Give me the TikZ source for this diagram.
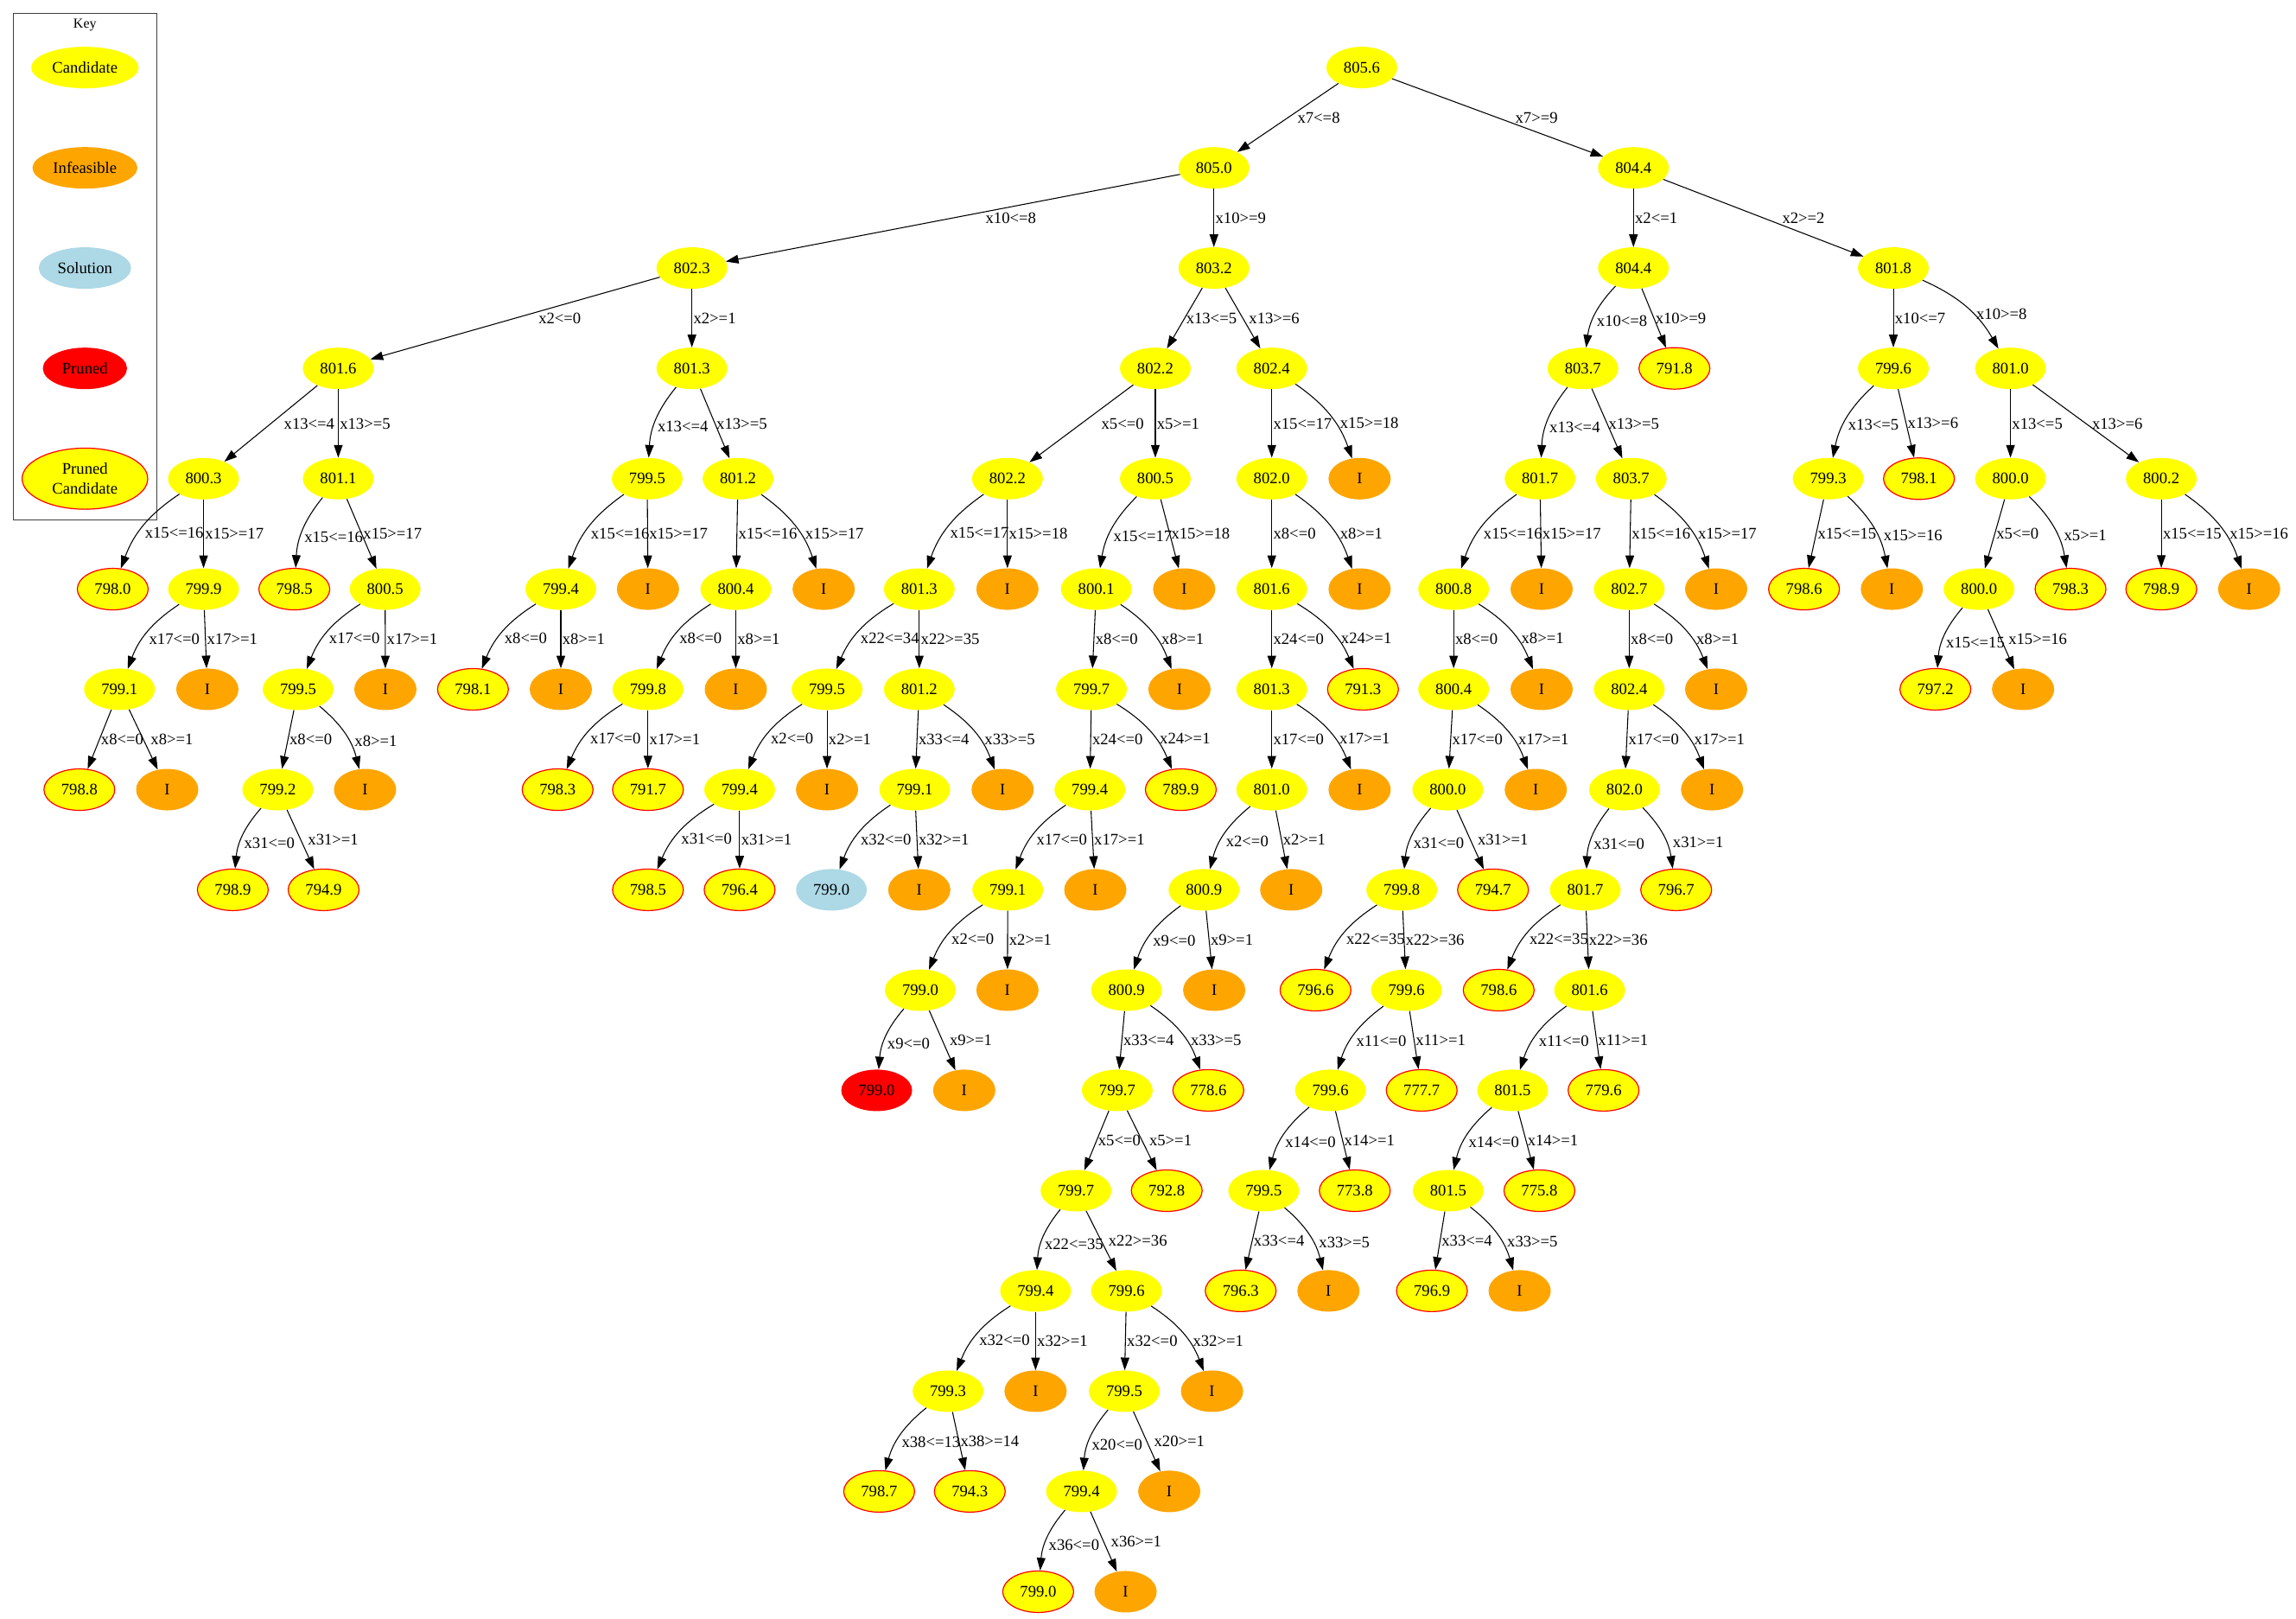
\documentclass[tikz,border=0pt]{standalone}
\usepackage{fontspec}
\setmainfont{Liberation Serif}
\usetikzlibrary{shapes, arrows.meta, positioning}

\definecolor{gvyellow}{HTML}{FFFF00}
\definecolor{gvorange}{HTML}{FFA500}
\definecolor{gvblue}{HTML}{ADD8E6}
\definecolor{gvred}{HTML}{FF0000}
\newcommand{\gvfont}{\fontsize{14}{16.8}\selectfont}

\tikzset{
	cand/.style={ellipse, fill=gvyellow, minimum width=54pt, minimum height=36pt, inner xsep=6pt, inner ysep=3pt, font=\gvfont},
	infs/.style={cand, fill=gvorange},
	sol/.style={cand, fill=gvblue},
	prun/.style={cand, fill=gvred},
	pcand/.style={cand, draw=gvred, line width=0.9pt},
	keyitem/.style={inner xsep=4.6pt},
	lab/.style={anchor=west, inner sep=1pt, font=\gvfont},
	labr/.style={lab, xshift=5pt},
	clab/.style={lab, yshift=-6pt},
	crlab/.style={lab, xshift=7pt, yshift=-6pt},
	edge/.style={-{Triangle[length=11pt,width=7.5pt]}, line width=0.8pt},
	cl/.style={bend right=18},
	cr/.style={bend left=18},
}

\begin{document}
\begin{tikzpicture}[x=1.2709pt, y=1.2709pt]
			\useasboundingbox (0, 0) rectangle (1568, -1104.8);

			\node[draw=black!75, line width=1pt, minimum width=124.5pt, minimum height=439.3pt, inner sep=0pt] (key) at (58, -182.15) {};
			\node[font=\fontsize{12}{14}\selectfont] (keytitle) at (58, -17.2) {Key};
			\node[cand, keyitem] (kcand) at (58, -46.1) {Candidate};
			\node[infs, keyitem] (kinfs) at (58, -114.6) {Infeasible};
			\node[sol, keyitem] (ksol) at (58, -183) {Solution};
			\node[prun, keyitem, minimum width=73pt] (kprun) at (58, -251.5) {Pruned};
			\node[pcand, keyitem, align=center, minimum width=109pt, minimum height=53pt] (kpcand) at (58, -326.8) {Pruned\\Candidate};

			\node[cand] (d0a) at (930, -46.1) {805.6};

			\node[cand] (d1a) at (829, -114.6) {805.0};
			\node[cand] (d1b) at (1115.5, -114.6) {804.4};

			\node[cand] (d2a) at (472.5, -183) {802.3};
			\node[cand] (d2b) at (829, -183) {803.2};
			\node[cand] (d2c) at (1115.5, -183) {804.4};
			\node[cand] (d2d) at (1293, -183) {801.8};

			\node[cand] (d3a) at (231, -251.5) {801.6};
			\node[cand] (d3b) at (472.5, -251.5) {801.3};
			\node[cand] (d3c) at (789, -251.5) {802.2};
			\node[cand] (d3d) at (868.5, -251.5) {802.4};
			\node[cand] (d3e) at (1081, -251.5) {803.7};
			\node[pcand] (d3f) at (1143.5, -251.5) {791.8};
			\node[cand] (d3g) at (1293, -251.5) {799.6};
			\node[cand] (d3h) at (1373, -251.5) {801.0};

			\node[cand] (d4a) at (139, -326.8) {800.3};
			\node[cand] (d4b) at (231, -326.8) {801.1};
			\node[cand] (d4c) at (442, -326.8) {799.5};
			\node[cand] (d4d) at (504, -326.8) {801.2};
			\node[cand] (d4e) at (688, -326.8) {802.2};
			\node[cand] (d4f) at (789, -326.8) {800.5};
			\node[cand] (d4g) at (868.5, -326.8) {802.0};
			\node[infs] (d4h) at (928.5, -326.8) {I};
			\node[cand] (d4i) at (1051.7, -326.8) {801.7};
			\node[cand] (d4j) at (1114, -326.8) {803.7};
			\node[cand] (d4k) at (1248.5, -326.8) {799.3};
			\node[pcand] (d4l) at (1310.5, -326.8) {798.1};
			\node[cand] (d4m) at (1373, -326.8) {800.0};
			\node[cand] (d4n) at (1476, -326.8) {800.2};

			\node[pcand] (d5a) at (77, -402.2) {798.0};
			\node[cand] (d5b) at (139, -402.2) {799.9};
			\node[pcand] (d5c) at (201, -402.2) {798.5};
			\node[cand] (d5d) at (263, -402.2) {800.5};
			\node[cand] (d5e) at (383, -402.2) {799.4};
			\node[infs] (d5f) at (442.5, -402.2) {I};
			\node[cand] (d5g) at (502.5, -402.2) {800.4};
			\node[infs] (d5h) at (562.5, -402.2) {I};
			\node[cand] (d5i) at (627.8, -402.2) {801.3};
			\node[infs] (d5j) at (688, -402.2) {I};
			\node[cand] (d5k) at (748.7, -402.2) {800.1};
			\node[infs] (d5l) at (808.7, -402.2) {I};
			\node[cand] (d5m) at (868.5, -402.2) {801.6};
			\node[infs] (d5n) at (928.5, -402.2) {I};
			\node[cand] (d5o) at (992.7, -402.2) {800.8};
			\node[infs] (d5p) at (1052.8, -402.2) {I};
			\node[cand] (d5q) at (1112.6, -402.2) {802.7};
			\node[infs] (d5r) at (1172, -402.2) {I};
			\node[pcand] (d5s) at (1232, -402.2) {798.6};
			\node[infs] (d5t) at (1292, -402.2) {I};
			\node[cand] (d5u) at (1351.5, -402.2) {800.0};
			\node[pcand] (d5v) at (1414, -402.2) {798.3};
			\node[pcand] (d5w) at (1476, -402.2) {798.9};
			\node[infs] (d5x) at (1536, -402.2) {I};

			\node[cand] (d6a) at (81.6, -470.6) {799.1};
			\node[infs] (d6b) at (141.6, -470.6) {I};
			\node[cand] (d6c) at (203.6, -470.6) {799.5};
			\node[infs] (d6d) at (263.2, -470.6) {I};
			\node[pcand] (d6e) at (323, -470.6) {798.1};
			\node[infs] (d6f) at (383, -470.6) {I};
			\node[cand] (d6g) at (442.5, -470.6) {799.8};
			\node[infs] (d6h) at (502.5, -470.6) {I};
			\node[cand] (d6i) at (564.8, -470.6) {799.5};
			\node[cand] (d6j) at (627.8, -470.6) {801.2};
			\node[cand] (d6k) at (745.4, -470.6) {799.7};
			\node[infs] (d6l) at (805.5, -470.6) {I};
			\node[cand] (d6m) at (868.5, -470.6) {801.3};
			\node[pcand] (d6n) at (930.8, -470.6) {791.3};
			\node[cand] (d6o) at (992.7, -470.6) {800.4};
			\node[infs] (d6p) at (1052.8, -470.6) {I};
			\node[cand] (d6q) at (1112.6, -470.6) {802.4};
			\node[infs] (d6r) at (1172, -470.6) {I};
			\node[pcand] (d6s) at (1321.7, -470.6) {797.2};
			\node[infs] (d6t) at (1381.6, -470.6) {I};

			\node[pcand] (d7a) at (54.2, -539.1) {798.8};
			\node[infs] (d7b) at (114.2, -539.1) {I};
			\node[cand] (d7c) at (189.7, -539.1) {799.2};
			\node[infs] (d7d) at (249.3, -539.1) {I};
			\node[pcand] (d7e) at (380.8, -539.1) {798.3};
			\node[pcand] (d7f) at (442.5, -539.1) {791.7};
			\node[cand] (d7g) at (505.1, -539.1) {799.4};
			\node[infs] (d7h) at (564.8, -539.1) {I};
			\node[cand] (d7i) at (624.7, -539.1) {799.1};
			\node[infs] (d7j) at (684.7, -539.1) {I};
			\node[cand] (d7k) at (744.3, -539.1) {799.4};
			\node[pcand] (d7l) at (806.4, -539.1) {789.9};
			\node[cand] (d7m) at (868.5, -539.1) {801.0};
			\node[infs] (d7n) at (928.5, -539.1) {I};
			\node[cand] (d7o) at (988.7, -539.1) {800.0};
			\node[infs] (d7p) at (1048.8, -539.1) {I};
			\node[cand] (d7q) at (1109.4, -539.1) {802.0};
			\node[infs] (d7r) at (1169.2, -539.1) {I};

			\node[pcand] (d8a) at (159, -607.5) {798.9};
			\node[pcand] (d8b) at (221, -607.5) {794.9};
			\node[pcand] (d8c) at (442.5, -607.5) {798.5};
			\node[pcand] (d8d) at (505.1, -607.5) {796.4};
			\node[sol] (d8e) at (567.8, -607.5) {799.0};
			\node[infs] (d8f) at (627.8, -607.5) {I};
			\node[cand] (d8g) at (688.2, -607.5) {799.1};
			\node[infs] (d8h) at (748, -607.5) {I};
			\node[cand] (d8i) at (822.2, -607.5) {800.9};
			\node[infs] (d8j) at (881.8, -607.5) {I};
			\node[cand] (d8k) at (957.3, -607.5) {799.8};
			\node[pcand] (d8l) at (1019.6, -607.5) {794.7};
			\node[cand] (d8m) at (1082.6, -607.5) {801.7};
			\node[pcand] (d8n) at (1144.7, -607.5) {796.7};

			\node[cand] (d9a) at (628.5, -676) {799.0};
			\node[infs] (d9b) at (688, -676) {I};
			\node[cand] (d9c) at (769.3, -676) {800.9};
			\node[infs] (d9d) at (829.2, -676) {I};
			\node[pcand] (d9e) at (898.4, -676) {796.6};
			\node[cand] (d9f) at (960.5, -676) {799.6};
			\node[pcand] (d9g) at (1023.5, -676) {798.6};
			\node[cand] (d9h) at (1085.6, -676) {801.6};

			\node[prun] (d10a) at (598.7, -744.4) {799.0};
			\node[infs] (d10b) at (658.5, -744.4) {I};
			\node[cand] (d10c) at (763, -744.4) {799.7};
			\node[pcand] (d10d) at (825.2, -744.4) {778.6};
			\node[cand] (d10e) at (908.6, -744.4) {799.6};
			\node[pcand] (d10f) at (970.9, -744.4) {777.7};
			\node[cand] (d10g) at (1033, -744.4) {801.5};
			\node[pcand] (d10h) at (1095.1, -744.4) {779.6};

			\node[cand] (d11a) at (734.8, -812.9) {799.7};
			\node[pcand] (d11b) at (796.8, -812.9) {792.8};
			\node[cand] (d11c) at (863, -812.9) {799.5};
			\node[pcand] (d11d) at (925.2, -812.9) {773.8};
			\node[cand] (d11e) at (989, -812.9) {801.5};
			\node[pcand] (d11f) at (1051.3, -812.9) {775.8};

			\node[cand] (d12a) at (707.2, -881.3) {799.4};
			\node[cand] (d12b) at (769.3, -881.3) {799.6};
			\node[pcand] (d12c) at (847.3, -881.3) {796.3};
			\node[infs] (d12d) at (907.2, -881.3) {I};
			\node[pcand] (d12e) at (977.9, -881.3) {796.9};
			\node[infs] (d12f) at (1037.8, -881.3) {I};

			\node[cand] (d13a) at (647.4, -949.8) {799.3};
			\node[infs] (d13b) at (707.2, -949.8) {I};
			\node[cand] (d13c) at (767.8, -949.8) {799.5};
			\node[infs] (d13d) at (827.7, -949.8) {I};

			\node[pcand] (d14a) at (600.4, -1018.2) {798.7};
			\node[pcand] (d14b) at (662.3, -1018.2) {794.3};
			\node[cand] (d14c) at (738.6, -1018.2) {799.4};
			\node[infs] (d14d) at (798.5, -1018.2) {I};

			\node[pcand] (d15a) at (709, -1086.7) {799.0};
			\node[infs] (d15b) at (768.7, -1086.7) {I};

			\draw[edge] (d0a) -- node[lab, xshift=7pt] {x7<=8} (d1a);
			\draw[edge] (d0a) -- node[lab, xshift=14pt] {x7>=9} (d1b);
			\draw[edge] (d1a) -- node[lab, xshift=27pt] {x10<=8} (d2a);
			\draw[edge] (d1a) -- node[lab] {x10>=9} (d2b);
			\draw[edge] (d1b) -- node[lab] {x2<=1} (d2c);
			\draw[edge] (d1b) -- node[lab, xshift=15pt] {x2>=2} (d2d);

			\draw[edge] (d2a) -- node[lab, xshift=19pt] {x2<=0} (d3a);
			\draw[edge] (d2a) -- node[lab] {x2>=1} (d3b);
			\draw[edge] (d2b) -- node[lab] {x13<=5} (d3c);
			\draw[edge] (d2b) -- node[lab, xshift=4pt] {x13>=6} (d3d);
			\draw[edge] (d2c) to[cl] node[clab] {x10<=8} (d3e);
			\draw[edge] (d2c) -- node[lab] {x10>=9} (d3f);
			\draw[edge] (d2d) -- node[lab] {x10<=7} (d3g);
			\draw[edge] (d2d) to[cr] node[crlab] {x10>=8} (d3h);

			\draw[edge] (d3a) -- node[lab, xshift=10pt] {x13<=4} (d4a);
			\draw[edge] (d3a) -- node[lab] {x13>=5} (d4b);
			\draw[edge] (d3b) to[cl] node[clab] {x13<=4} (d4c);
			\draw[edge] (d3b) -- node[lab] {x13>=5} (d4d);
			\draw[edge] (d3c) -- node[lab, xshift=16pt] {x5<=0} (d4e);
			\draw[edge] (d3c) -- node[lab] {x5>=1} (d4f);
			\draw[edge] (d3d) -- node[lab] {x15<=17} (d4g);
			\draw[edge] (d3d) to[cr] node[crlab] {x15>=18} (d4h);
			\draw[edge] (d3e) to[cl] node[clab] {x13<=4} (d4i);
			\draw[edge] (d3e) -- node[lab] {x13>=5} (d4j);
			\draw[edge] (d3g) to[cl] node[clab] {x13<=5} (d4k);
			\draw[edge] (d3g) -- node[lab] {x13>=6} (d4l);
			\draw[edge] (d3h) -- node[lab] {x13<=5} (d4m);
			\draw[edge] (d3h) -- node[lab, xshift=4pt] {x13>=6} (d4n);

			\draw[edge] (d4a) to[cl] node[clab] {x15<=16} (d5a);
			\draw[edge] (d4a) -- node[lab] {x15>=17} (d5b);
			\draw[edge] (d4b) to[cl] node[clab] {x15<=16} (d5c);
			\draw[edge] (d4b) -- node[lab] {x15>=17} (d5d);
			\draw[edge] (d4c) to[cl] node[clab] {x15<=16} (d5e);
			\draw[edge] (d4c) -- node[lab] {x15>=17} (d5f);
			\draw[edge] (d4d) -- node[lab] {x15<=16} (d5g);
			\draw[edge] (d4d) to[cr] node[crlab] {x15>=17} (d5h);
			\draw[edge] (d4e) to[cl] node[clab] {x15<=17} (d5i);
			\draw[edge] (d4e) -- node[lab] {x15>=18} (d5j);
			\draw[edge] (d4f) to[cl] node[clab] {x15<=17} (d5k);
			\draw[edge] (d4f) -- node[lab] {x15>=18} (d5l);
			\draw[edge] (d4g) -- node[lab] {x8<=0} (d5m);
			\draw[edge] (d4g) to[cr] node[crlab] {x8>=1} (d5n);
			\draw[edge] (d4i) to[cl] node[clab] {x15<=16} (d5o);
			\draw[edge] (d4i) -- node[lab] {x15>=17} (d5p);
			\draw[edge] (d4j) -- node[lab] {x15<=16} (d5q);
			\draw[edge] (d4j) to[cr] node[crlab] {x15>=17} (d5r);
			\draw[edge] (d4k) -- node[lab] {x15<=15} (d5s);
			\draw[edge] (d4k) to[cr] node[crlab] {x15>=16} (d5t);
			\draw[edge] (d4m) -- node[lab] {x5<=0} (d5u);
			\draw[edge] (d4m) to[cr] node[crlab] {x5>=1} (d5v);
			\draw[edge] (d4n) -- node[lab] {x15<=15} (d5w);
			\draw[edge] (d4n) to[cr] node[crlab] {x15>=16} (d5x);

			\draw[edge] (d5b) to[cl] node[clab] {x17<=0} (d6a);
			\draw[edge] (d5b) -- node[lab] {x17>=1} (d6b);
			\draw[edge] (d5d) to[cl] node[clab] {x17<=0} (d6c);
			\draw[edge] (d5d) -- node[lab] {x17>=1} (d6d);
			\draw[edge] (d5e) to[cl] node[clab] {x8<=0} (d6e);
			\draw[edge] (d5e) -- node[lab] {x8>=1} (d6f);
			\draw[edge] (d5g) to[cl] node[clab] {x8<=0} (d6g);
			\draw[edge] (d5g) -- node[lab] {x8>=1} (d6h);
			\draw[edge] (d5i) to[cl] node[clab] {x22<=34} (d6i);
			\draw[edge] (d5i) -- node[lab] {x22>=35} (d6j);
			\draw[edge] (d5k) -- node[lab] {x8<=0} (d6k);
			\draw[edge] (d5k) to[cr] node[crlab] {x8>=1} (d6l);
			\draw[edge] (d5m) -- node[lab] {x24<=0} (d6m);
			\draw[edge] (d5m) to[cr] node[crlab] {x24>=1} (d6n);
			\draw[edge] (d5o) -- node[lab] {x8<=0} (d6o);
			\draw[edge] (d5o) to[cr] node[crlab] {x8>=1} (d6p);
			\draw[edge] (d5q) -- node[lab] {x8<=0} (d6q);
			\draw[edge] (d5q) to[cr] node[crlab] {x8>=1} (d6r);
			\draw[edge] (d5u) to[cl] node[clab] {x15<=15} (d6s);
			\draw[edge] (d5u) -- node[labr] {x15>=16} (d6t);

			\draw[edge] (d6a) -- node[lab] {x8<=0} (d7a);
			\draw[edge] (d6a) -- node[labr] {x8>=1} (d7b);
			\draw[edge] (d6c) -- node[lab] {x8<=0} (d7c);
			\draw[edge] (d6c) to[cr] node[crlab] {x8>=1} (d7d);
			\draw[edge] (d6g) to[cl] node[clab] {x17<=0} (d7e);
			\draw[edge] (d6g) -- node[lab] {x17>=1} (d7f);
			\draw[edge] (d6i) to[cl] node[clab] {x2<=0} (d7g);
			\draw[edge] (d6i) -- node[lab] {x2>=1} (d7h);
			\draw[edge] (d6j) -- node[lab] {x33<=4} (d7i);
			\draw[edge] (d6j) to[cr] node[crlab] {x33>=5} (d7j);
			\draw[edge] (d6k) -- node[lab] {x24<=0} (d7k);
			\draw[edge] (d6k) to[cr] node[crlab] {x24>=1} (d7l);
			\draw[edge] (d6m) -- node[lab] {x17<=0} (d7m);
			\draw[edge] (d6m) to[cr] node[crlab] {x17>=1} (d7n);
			\draw[edge] (d6o) -- node[lab] {x17<=0} (d7o);
			\draw[edge] (d6o) to[cr] node[crlab] {x17>=1} (d7p);
			\draw[edge] (d6q) -- node[lab] {x17<=0} (d7q);
			\draw[edge] (d6q) to[cr] node[crlab] {x17>=1} (d7r);

			\draw[edge] (d7c) to[cl] node[clab] {x31<=0} (d8a);
			\draw[edge] (d7c) -- node[labr] {x31>=1} (d8b);
			\draw[edge] (d7g) to[cl] node[clab] {x31<=0} (d8c);
			\draw[edge] (d7g) -- node[lab] {x31>=1} (d8d);
			\draw[edge] (d7i) to[cl] node[clab] {x32<=0} (d8e);
			\draw[edge] (d7i) -- node[lab] {x32>=1} (d8f);
			\draw[edge] (d7k) to[cl] node[clab] {x17<=0} (d8g);
			\draw[edge] (d7k) -- node[lab] {x17>=1} (d8h);
			\draw[edge] (d7m) to[cl] node[clab] {x2<=0} (d8i);
			\draw[edge] (d7m) -- node[lab] {x2>=1} (d8j);
			\draw[edge] (d7o) to[cl] node[clab] {x31<=0} (d8k);
			\draw[edge] (d7o) -- node[labr] {x31>=1} (d8l);
			\draw[edge] (d7q) to[cl] node[clab] {x31<=0} (d8m);
			\draw[edge] (d7q) to[cr] node[crlab] {x31>=1} (d8n);

			\draw[edge] (d8g) to[cl] node[clab] {x2<=0} (d9a);
			\draw[edge] (d8g) -- node[lab] {x2>=1} (d9b);
			\draw[edge] (d8i) to[cl] node[clab] {x9<=0} (d9c);
			\draw[edge] (d8i) -- node[lab] {x9>=1} (d9d);
			\draw[edge] (d8k) to[cl] node[clab] {x22<=35} (d9e);
			\draw[edge] (d8k) -- node[lab] {x22>=36} (d9f);
			\draw[edge] (d8m) to[cl] node[clab] {x22<=35} (d9g);
			\draw[edge] (d8m) -- node[lab] {x22>=36} (d9h);

			\draw[edge] (d9a) to[cl] node[clab] {x9<=0} (d10a);
			\draw[edge] (d9a) -- node[labr] {x9>=1} (d10b);
			\draw[edge] (d9c) -- node[lab] {x33<=4} (d10c);
			\draw[edge] (d9c) to[cr] node[crlab] {x33>=5} (d10d);
			\draw[edge] (d9f) to[cl] node[clab] {x11<=0} (d10e);
			\draw[edge] (d9f) -- node[lab] {x11>=1} (d10f);
			\draw[edge] (d9h) to[cl] node[clab] {x11<=0} (d10g);
			\draw[edge] (d9h) -- node[lab] {x11>=1} (d10h);

			\draw[edge] (d10c) -- node[lab] {x5<=0} (d11a);
			\draw[edge] (d10c) -- node[labr] {x5>=1} (d11b);
			\draw[edge] (d10e) to[cl] node[clab] {x14<=0} (d11c);
			\draw[edge] (d10e) -- node[lab] {x14>=1} (d11d);
			\draw[edge] (d10g) to[cl] node[clab] {x14<=0} (d11e);
			\draw[edge] (d10g) -- node[lab] {x14>=1} (d11f);

			\draw[edge] (d11a) to[cl] node[clab] {x22<=35} (d12a);
			\draw[edge] (d11a) -- node[labr] {x22>=36} (d12b);
			\draw[edge] (d11c) -- node[lab] {x33<=4} (d12c);
			\draw[edge] (d11c) to[cr] node[crlab] {x33>=5} (d12d);
			\draw[edge] (d11e) -- node[lab] {x33<=4} (d12e);
			\draw[edge] (d11e) to[cr] node[crlab] {x33>=5} (d12f);

			\draw[edge] (d12a) to[cl] node[clab] {x32<=0} (d13a);
			\draw[edge] (d12a) -- node[lab] {x32>=1} (d13b);
			\draw[edge] (d12b) -- node[lab] {x32<=0} (d13c);
			\draw[edge] (d12b) to[cr] node[crlab] {x32>=1} (d13d);

			\draw[edge] (d13a) to[cl] node[clab] {x38<=13} (d14a);
			\draw[edge] (d13a) -- node[lab] {x38>=14} (d14b);
			\draw[edge] (d13c) to[cl] node[clab] {x20<=0} (d14c);
			\draw[edge] (d13c) -- node[labr] {x20>=1} (d14d);

			\draw[edge] (d14c) to[cl] node[clab] {x36<=0} (d15a);
			\draw[edge] (d14c) -- node[labr] {x36>=1} (d15b);
		\end{tikzpicture}
\end{document}
